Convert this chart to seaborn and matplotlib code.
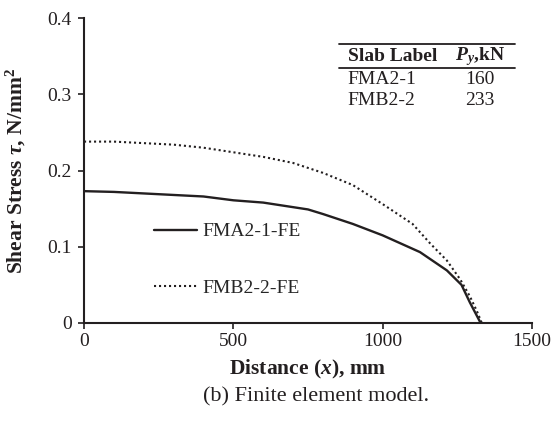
import numpy as np
import pandas as pd
import seaborn as sns
import matplotlib.pyplot as plt
from matplotlib.lines import Line2D

# values
dist_a = [0, 100, 200, 300, 400, 500, 600, 700, 750, 800, 900, 1000, 1125, 1215, 1264, 1292, 1328]
tau_a = [0.173, 0.172, 0.170, 0.168, 0.166, 0.161, 0.158, 0.152, 0.149, 0.143, 0.130, 0.115, 0.093, 0.069, 0.050, 0.027, 0.0]

dist_b = [0, 100, 200, 300, 400, 500, 600, 700, 800, 900, 1000, 1100, 1160, 1215, 1260, 1292, 1315, 1332]
tau_b = [0.238, 0.238, 0.236, 0.234, 0.230, 0.224, 0.218, 0.210, 0.197, 0.181, 0.156, 0.130, 0.104, 0.082, 0.057, 0.035, 0.016, 0.0]

series_names = ['FMA2-1-FE', 'FMB2-2-FE']
slab_labels = ['FMA2-1', 'FMB2-2']
py_values = ['160', '233']
x_ticks = [0, 500, 1000, 1500]
y_ticks = [0, 0.1, 0.2, 0.3, 0.4]
y_tick_labels = ['0', '0.1', '0.2', '0.3', '0.4']

data = pd.concat([
    pd.DataFrame({'Distance': dist_a, 'Tau': tau_a, 'Series': series_names[0]}),
    pd.DataFrame({'Distance': dist_b, 'Tau': tau_b, 'Series': series_names[1]}),
])

sns.set_style('ticks')
plt.rcParams['font.family'] = ['Liberation Serif', 'DejaVu Serif']
plt.rcParams['mathtext.fontset'] = 'custom'
plt.rcParams['mathtext.rm'] = 'Liberation Serif'
plt.rcParams['mathtext.it'] = 'Liberation Serif:italic'
plt.rcParams['mathtext.bf'] = 'Liberation Serif:bold'
plt.rcParams['mathtext.bfit'] = 'Liberation Serif:bold:italic'

ink = '#231f20'
fig = plt.figure(figsize=(5.51, 4.22), dpi=100)
ax = fig.add_axes([0.1525, 0.2346, 0.813, 0.7224])

sns.lineplot(data=data, x='Distance', y='Tau', hue='Series', style='Series',
             palette=[ink, ink],
             dashes={series_names[0]: '', series_names[1]: (1, 1.4)},
             sort=False, estimator=None, ax=ax, legend=False)
ax.lines[0].set_linewidth(1.7)
ax.lines[1].set_linewidth(1.5)

ax.set_xlim(0, 1500)
ax.set_ylim(0, 0.4)
ax.set_xticks(x_ticks)
ax.set_yticks(y_ticks)
ax.set_yticklabels(y_tick_labels)
ax.tick_params(labelsize=14, colors=ink, length=4, width=1.2, pad=3)
ax.tick_params(axis='y', pad=5)
for side in ['top', 'right']:
    ax.spines[side].set_visible(False)
for side in ['left', 'bottom']:
    ax.spines[side].set_linewidth(1.5)
    ax.spines[side].set_color(ink)

ax.set_xlabel(r'Distance ($\mathbfit{x}$), mm', fontsize=15.5, fontweight='bold',
              color=ink, va='center')
ax.set_ylabel(r'Shear Stress $\mathbfit{\tau}$, N/mm$^\mathbf{2}$', fontsize=15.5,
              fontweight='bold', color=ink, va='center')
ax.xaxis.set_label_coords(0.5, -0.151)
ax.yaxis.set_label_coords(-0.152, 0.5)

handles = [Line2D([], [], color=ink, lw=1.7),
           Line2D([], [], color=ink, lw=1.5, ls=(0, (1, 1.4)))]
ax.legend(handles, series_names, loc='center left', bbox_to_anchor=(0.156, 0.207),
          frameon=False, fontsize=14, handlelength=2.2, handletextpad=0.3,
          labelspacing=2.0, borderpad=0, borderaxespad=0)

# table in the upper right
for yy in [0.915, 0.836]:
    ax.plot([0.569, 0.962], [yy, yy], transform=ax.transAxes, color=ink,
            lw=1.3, clip_on=False)
ax.text(0.589, 0.873, 'Slab Label', transform=ax.transAxes, fontsize=14,
        fontweight='bold', va='center', ha='left', color=ink)
ax.text(0.884, 0.873, r'$\mathbfit{P}_\mathbfit{y}$,kN', transform=ax.transAxes,
        fontsize=14, fontweight='bold', va='center', ha='center', color=ink)
for i, (lab, val) in enumerate(zip(slab_labels, py_values)):
    yy = 0.800 - i * 0.069
    ax.text(0.589, yy, lab, transform=ax.transAxes, fontsize=14, va='center',
            ha='left', color=ink)
    ax.text(0.884, yy, val, transform=ax.transAxes, fontsize=14, va='center',
            ha='center', color=ink)

fig.text(0.574, 0.059, '(b) Finite element model.', fontsize=16, ha='center',
         va='center', color=ink)

fig.savefig('out.png', dpi=100)
